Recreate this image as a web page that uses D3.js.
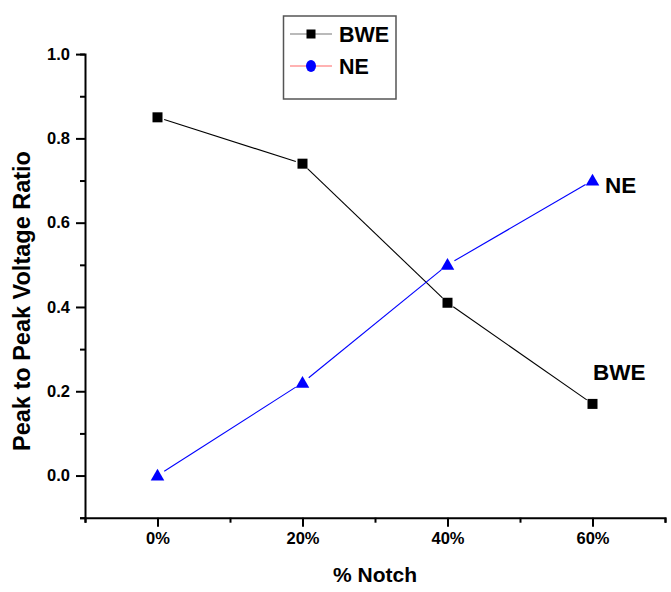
<!DOCTYPE html>
<html>
<head>
<meta charset="utf-8">
<script src="https://cdn.jsdelivr.net/npm/d3@7"></script>
<style>
  html, body { margin: 0; padding: 0; background: #fff; }
  svg { display: block; font-family: Arial, "Liberation Sans", sans-serif; }
</style>
</head>
<body>
<svg id="chart" width="671" height="592"></svg>
<script>
// Notch percentage on the x axis
const notch = [0, 20, 40, 60];
const xTickLabels = ["0%", "20%", "40%", "60%"];
// Peak-to-peak voltage ratio per series
const bweValues = [0.85, 0.74, 0.41, 0.17];
const neValues = [0.00, 0.22, 0.50, 0.70];
const yTicks = [0.0, 0.2, 0.4, 0.6, 0.8, 1.0];

const svg = d3.select("#chart");

const x = d3.scaleLinear().domain([-10, 70]).range([85, 665]);
const y = d3.scaleLinear().domain([-0.1, 1.0]).range([517.7, 54.1]);

// Axes (major + minor ticks, outward)
const xMajor = d3.axisBottom(x).tickValues(notch).tickSize(9)
  .tickFormat((d, i) => xTickLabels[i]).tickPadding(6);
const xMinor = d3.axisBottom(x).tickValues([-10, 10, 30, 50, 70]).tickSize(5).tickFormat("");
const yMajor = d3.axisLeft(y).tickValues(yTicks).tickSize(9).tickFormat(d3.format(".1f")).tickPadding(6);
const yMinor = d3.axisLeft(y).tickValues([-0.1, 0.1, 0.3, 0.5, 0.7, 0.9]).tickSize(5).tickFormat("");

function styleAxis(g) {
  g.select(".domain").attr("stroke", "#000").attr("stroke-width", 2);
  g.selectAll(".tick line").attr("stroke", "#000").attr("stroke-width", 2);
  g.selectAll(".tick text").attr("fill", "#000").attr("font-size", 16.5)
    .attr("font-weight", "bold").attr("font-family", "Arial, 'Liberation Sans', sans-serif");
}

const gx = svg.append("g").attr("transform", "translate(0,517.7)");
gx.call(xMinor); gx.call(styleAxis);
const gx2 = svg.append("g").attr("transform", "translate(0,517.7)");
gx2.call(xMajor); gx2.call(styleAxis); gx2.select(".domain").remove();

const gy = svg.append("g").attr("transform", "translate(85,0)");
gy.call(yMinor); gy.call(styleAxis);
const gy2 = svg.append("g").attr("transform", "translate(85,0)");
gy2.call(yMajor); gy2.call(styleAxis); gy2.select(".domain").remove();

// Axis titles
svg.append("text").attr("x", 375).attr("y", 582).attr("text-anchor", "middle")
  .attr("font-size", 21).attr("font-weight", "bold").text("% Notch");
svg.append("text").attr("transform", "translate(30,301) rotate(-90)").attr("text-anchor", "middle")
  .attr("font-size", 23.5).attr("font-weight", "bold").text("Peak to Peak Voltage Ratio");

// Connecting lines, trimmed short of each marker
function drawSeries(values, color, gap) {
  const pts = notch.map((n, i) => [x(n), y(values[i])]);
  for (let i = 0; i < pts.length - 1; i++) {
    const [x1, y1] = pts[i], [x2, y2] = pts[i + 1];
    const len = Math.hypot(x2 - x1, y2 - y1);
    const ux = (x2 - x1) / len, uy = (y2 - y1) / len;
    svg.append("line")
      .attr("x1", x1 + ux * gap).attr("y1", y1 + uy * gap)
      .attr("x2", x2 - ux * gap).attr("y2", y2 - uy * gap)
      .attr("stroke", color).attr("stroke-width", 1.1);
  }
  return pts;
}

const bwePts = drawSeries(bweValues, "#000", 7);
const nePts = drawSeries(neValues, "#0000ff", 8);

svg.selectAll("rect.bwe").data(bwePts).enter().append("rect")
  .attr("class", "bwe")
  .attr("x", d => d[0] - 5).attr("y", d => d[1] - 5)
  .attr("width", 10).attr("height", 10).attr("fill", "#000");

const tri = d3.symbol().type(d3.symbolTriangle).size(80);
svg.selectAll("path.ne").data(nePts).enter().append("path")
  .attr("class", "ne")
  .attr("transform", d => `translate(${d[0]},${d[1] + 1})`)
  .attr("d", tri).attr("fill", "#0000ff");

// End-of-line labels
svg.append("text").attr("x", 605).attr("y", 193).attr("font-size", 22.5)
  .attr("font-weight", "bold").text("NE");
svg.append("text").attr("x", 593).attr("y", 380).attr("font-size", 22.5)
  .attr("font-weight", "bold").text("BWE");

// Legend
const lg = svg.append("g");
lg.append("rect").attr("x", 283.5).attr("y", 16).attr("width", 112.5).attr("height", 83)
  .attr("fill", "#fff").attr("stroke", "#555").attr("stroke-width", 1.5);
const legendItems = [
  { name: "BWE", line: "#777", cy: 34, marker: "square" },
  { name: "NE", line: "#ff6666", cy: 66, marker: "circle" }
];
legendItems.forEach(it => {
  lg.append("line").attr("x1", 290).attr("x2", 332).attr("y1", it.cy).attr("y2", it.cy)
    .attr("stroke", it.line).attr("stroke-width", 1.2);
  if (it.marker === "square") {
    lg.append("rect").attr("x", 306.5).attr("y", it.cy - 4.5).attr("width", 9).attr("height", 9).attr("fill", "#000");
  } else {
    lg.append("ellipse").attr("cx", 311).attr("cy", it.cy).attr("rx", 5).attr("ry", 6).attr("fill", "#0000ff");
  }
  lg.append("text").attr("x", 339).attr("y", it.cy + 7.5).attr("font-size", 21.5)
    .attr("font-weight", "bold").text(it.name);
});
</script>
</body>
</html>
